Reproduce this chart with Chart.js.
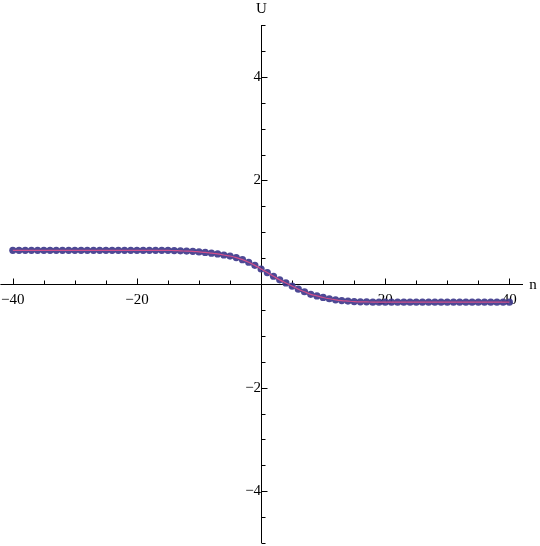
<!DOCTYPE html>
<html>
<head>
<meta charset="utf-8">
<script src="https://cdn.jsdelivr.net/npm/chart.js@4"></script>
<style>
  html, body { margin: 0; padding: 0; background: #fff; overflow: hidden; }
  #wrap { width: 546px; height: 558px; position: absolute; left: -6px; top: 0; }
</style>
</head>
<body>
<div id="wrap"><canvas id="plot"></canvas></div>
<script>
// n = -40 .. 40
const nValues = [
  -40, -39, -38, -37, -36, -35, -34, -33, -32, -31,
  -30, -29, -28, -27, -26, -25, -24, -23, -22, -21,
  -20, -19, -18, -17, -16, -15, -14, -13, -12, -11,
  -10, -9, -8, -7, -6, -5, -4, -3, -2, -1,
  0, 1, 2, 3, 4, 5, 6, 7, 8, 9,
  10, 11, 12, 13, 14, 15, 16, 17, 18, 19,
  20, 21, 22, 23, 24, 25, 26, 27, 28, 29,
  30, 31, 32, 33, 34, 35, 36, 37, 38, 39, 40
];
const uValues = [
  0.65, 0.65, 0.65, 0.65, 0.65, 0.65, 0.65, 0.65, 0.65, 0.65,
  0.65, 0.65, 0.65, 0.65, 0.65, 0.65, 0.65, 0.65, 0.65, 0.65,
  0.65, 0.65, 0.65, 0.65, 0.65, 0.65, 0.645, 0.64, 0.635, 0.63,
  0.62, 0.61, 0.595, 0.58, 0.56, 0.54, 0.51, 0.47, 0.42, 0.36,
  0.29, 0.22, 0.15, 0.08, 0.02, -0.04, -0.10, -0.15, -0.20, -0.23,
  -0.26, -0.285, -0.305, -0.32, -0.33, -0.34, -0.345, -0.345, -0.35, -0.35,
  -0.35, -0.35, -0.35, -0.35, -0.35, -0.35, -0.35, -0.35, -0.35, -0.35,
  -0.35, -0.35, -0.35, -0.35, -0.35, -0.35, -0.35, -0.35, -0.35, -0.35, -0.35
];
const xLabelTicks = [-40, -20, 20, 40];
const yLabelTicks = [-4, -2, 2, 4];
const xMinorStep = 5;
const yMinorStep = 0.5;

const points = nValues.map((n, i) => ({ x: n, y: uValues[i] }));
const fmt = (v) => (v < 0 ? "\u2212" + Math.abs(v) : String(v));

// axes through the origin with inward tick marks, plus the axis names
const axesPlugin = {
  id: "axesPlugin",
  beforeDatasetsDraw(chart) {
    const ctx = chart.ctx;
    const xs = chart.scales.x;
    const ys = chart.scales.y;
    const area = chart.chartArea;
    const x0 = Math.round(xs.getPixelForValue(0)) + 0.5;
    const y0 = Math.round(ys.getPixelForValue(0)) + 0.5;
    ctx.save();
    ctx.strokeStyle = "#000";
    ctx.lineWidth = 1;
    ctx.beginPath();
    ctx.moveTo(area.left, y0);
    ctx.lineTo(area.right, y0);
    ctx.moveTo(x0, area.top);
    ctx.lineTo(x0, area.bottom);
    // x ticks
    for (let v = -40; v <= 40; v += xMinorStep) {
      if (v === 0) continue;
      const px = Math.round(xs.getPixelForValue(v)) + 0.5;
      const len = v % 20 === 0 ? 6 : 4;
      ctx.moveTo(px, y0);
      ctx.lineTo(px, y0 - len);
    }
    // y ticks
    for (let k = -10; k <= 10; k++) {
      const v = k * yMinorStep;
      if (v === 0) continue;
      const py = Math.round(ys.getPixelForValue(v)) + 0.5;
      const len = v % 2 === 0 ? 6 : 4;
      ctx.moveTo(x0, py);
      ctx.lineTo(x0 + len, py);
    }
    ctx.stroke();
    ctx.fillStyle = "#000";
    ctx.font = "15px 'Liberation Serif'";
    ctx.textAlign = "center";
    ctx.textBaseline = "middle";
    ctx.fillText("n", area.right + 10, y0 + 1);
    ctx.fillText("U", x0, 9);
    ctx.restore();
  }
};

new Chart(document.getElementById("plot").getContext("2d"), {
  type: "scatter",
  data: {
    datasets: [
      {
        label: "U",
        data: points,
        backgroundColor: "rgba(62, 58, 140, 0.92)",
        borderWidth: 0,
        pointRadius: 3.6,
        order: 2
      },
      {
        type: "line",
        label: "fit",
        data: points,
        borderColor: "#d0508a",
        borderWidth: 1.2,
        pointRadius: 0,
        tension: 0.3,
        fill: false,
        order: 1
      }
    ]
  },
  options: {
    responsive: true,
    maintainAspectRatio: false,
    animation: false,
    layout: { padding: { left: 0, right: 17, top: 25, bottom: 0 } },
    scales: {
      x: {
        type: "linear",
        min: -42,
        max: 42.2,
        position: { y: 0 },
        afterBuildTicks: (s) => { s.ticks = xLabelTicks.map((v) => ({ value: v })); },
        grid: { display: false, drawTicks: false },
        border: { display: false },
        ticks: {
          padding: 7,
          maxRotation: 0,
          color: "#000",
          font: { family: "'Liberation Serif'", size: 15 },
          callback: (v) => fmt(v)
        }
      },
      y: {
        type: "linear",
        min: -5,
        max: 5,
        position: { x: 0 },
        afterBuildTicks: (s) => { s.ticks = yLabelTicks.map((v) => ({ value: v })); },
        grid: { display: false, drawTicks: false },
        border: { display: false },
        ticks: {
          padding: 6,
          color: "#000",
          font: { family: "'Liberation Serif'", size: 15 },
          callback: (v) => fmt(v)
        }
      }
    },
    plugins: {
      legend: { display: false },
      tooltip: { enabled: false }
    }
  },
  plugins: [axesPlugin]
});
</script>
</body>
</html>
